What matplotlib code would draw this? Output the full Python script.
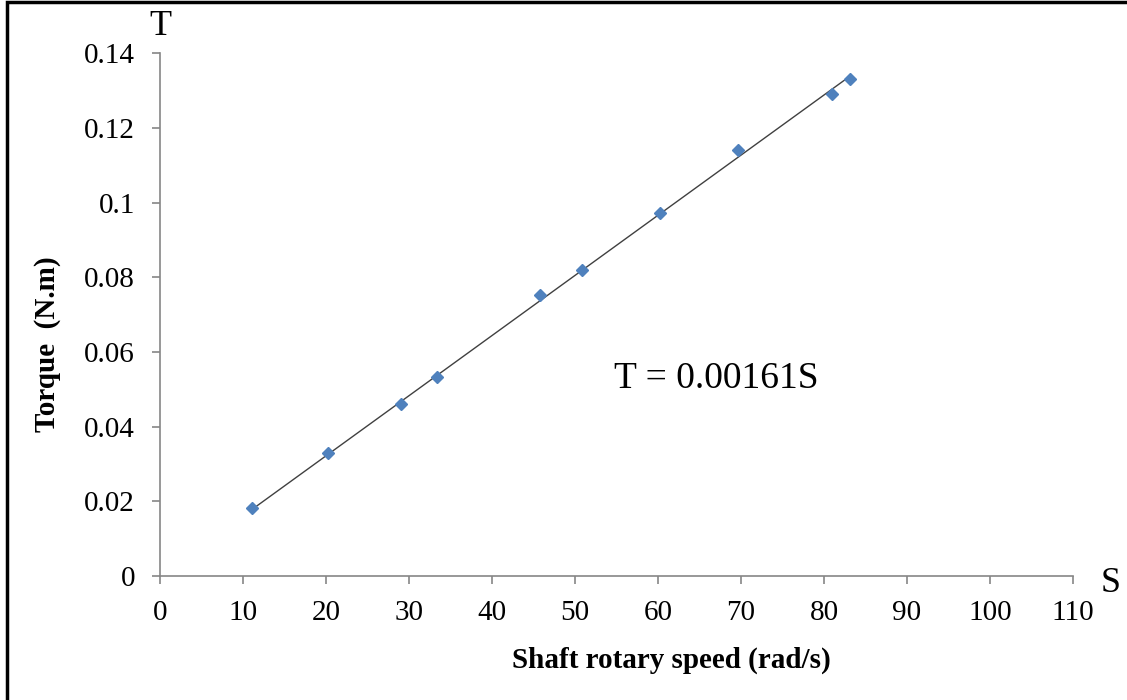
import numpy as np
import matplotlib.pyplot as plt
from matplotlib.patches import Rectangle

plt.rcParams['font.family'] = ['Liberation Serif', 'DejaVu Serif']

# measured points
speed = [11.1, 20.2, 29.0, 33.4, 45.8, 50.8, 60.2, 69.6, 81.0, 83.1]
torque = [0.0182, 0.0329, 0.046, 0.0533, 0.0752, 0.0819, 0.0972, 0.114, 0.129, 0.133]
slope = 0.00161

x_ticks = list(range(0, 111, 10))
y_ticks = [0, 0.02, 0.04, 0.06, 0.08, 0.1, 0.12, 0.14]
y_labels = ['0', '0.02', '0.04', '0.06', '0.08', '0.1', '0.12', '0.14']

fig = plt.figure(figsize=(11.27, 7), dpi=100)
ax = fig.add_axes([0.142, 0.177, 0.810, 0.747])

# fitted line through origin, drawn over the data range
s_fit = np.array([min(speed), max(speed)])
ax.plot(s_fit, slope * s_fit, color='#404040', lw=1.0, zorder=2)
ax.plot(speed, torque, linestyle='none', marker='D', ms=6.5,
        color='#4F81BD', zorder=3)

ax.set_xlim(0, 110)
ax.set_ylim(0, 0.14)
ax.set_xticks(x_ticks)
ax.set_yticks(y_ticks)
ax.set_yticklabels(y_labels)

for side in ['top', 'right']:
    ax.spines[side].set_visible(False)
for side in ['left', 'bottom']:
    ax.spines[side].set_color('#868686')
    ax.spines[side].set_linewidth(1.2)
ax.tick_params(direction='out', length=6, width=1.2, color='#868686',
               labelsize=21)
ax.tick_params(axis='x', pad=11)
ax.tick_params(axis='y', pad=12)

ax.set_xlabel('Shaft rotary speed (rad/s)', fontsize=21, fontweight='bold')
ax.xaxis.set_label_coords(0.56, -0.135)
ax.set_ylabel('Torque  (N.m)', fontsize=21, fontweight='bold')
ax.yaxis.set_label_coords(-0.108, 0.444)

ax.text(0, 1.02, 'T', transform=ax.transAxes, fontsize=26, ha='center',
        va='bottom')
ax.text(1.03, -0.015, 'S', transform=ax.transAxes, fontsize=26, ha='left',
        va='center')
ax.text(0.4975, 0.378, 'T = 0.00161S', transform=ax.transAxes, fontsize=27,
        ha='left', va='center')

# frame around the picture
fig.patches.append(Rectangle((7 / 1127, -0.1), 1.2, 1.1 - 2 / 700,
                             transform=fig.transFigure, fill=False,
                             edgecolor='black', lw=2.5))

fig.savefig('out.png', dpi=100)
